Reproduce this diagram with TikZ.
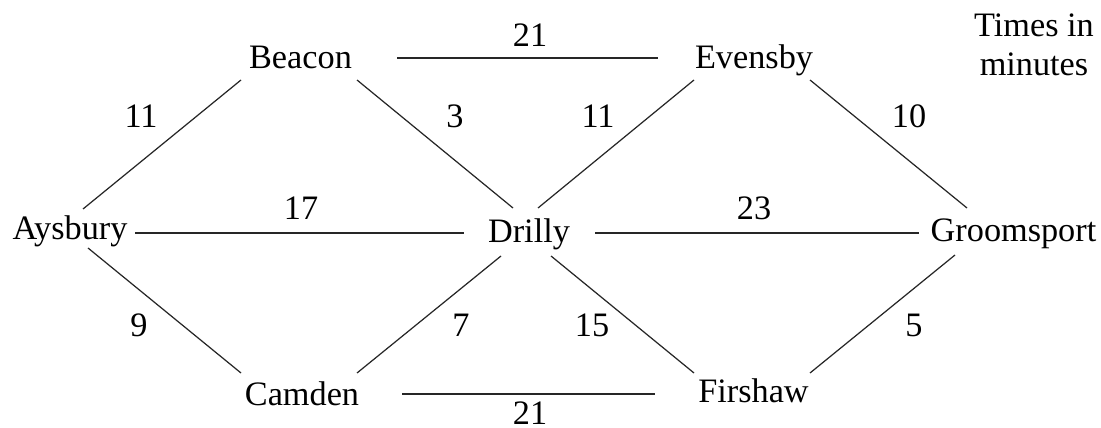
\documentclass[tikz,border=0pt]{standalone}
\usepackage{fontspec}
\setmainfont{Liberation Serif}
\usetikzlibrary{calc}
\begin{document}
\begin{tikzpicture}[x=0.02cm,y=-0.02cm,
  town/.style={inner sep=0pt,anchor=base,font=\fontsize{19.5}{23}\selectfont},
  wt/.style={inner sep=0pt,anchor=base,font=\fontsize{19.5}{23}\selectfont},
  road/.style={line width=0.7pt,black!85}]
\useasboundingbox (0,0) rectangle (1101,428);
% towns
\node[town] (A) at (70,240) {Aysbury};
\node[town] (B) at (300.5,69) {Beacon};
\node[town] (E) at (754,69) {Evensby};
\node[town] (D) at (529,243) {Drilly};
\node[town] (G) at (1013.5,242) {Groomsport};
\node[town] (C) at (302,405) {Camden};
\node[town] (F) at (753.5,402) {Firshaw};
\node[town,align=center,anchor=base] (T) at (1034,76) {Times in\\[-0.5pt]minutes};
% roads
\draw[road] ($(A.base)+(13,-31)$) -- ($(B.base)+(-59.5,11)$);
\draw[road] ($(B.base)+(56.5,11)$) -- ($(D.base)+(-16,-35)$);
\draw[road] ($(B.base)+(96.5,-11)$) -- ($(E.base)+(-96,-11)$);
\draw[road] ($(A.base)+(65,-7)$) -- ($(D.base)+(-65,-10)$);
\draw[road] ($(E.base)+(-60,11)$) -- ($(D.base)+(9,-35)$);
\draw[road] ($(E.base)+(56,11)$) -- ($(G.base)+(-46.5,-34)$);
\draw[road] ($(D.base)+(66,-10)$) -- ($(G.base)+(-94.5,-9)$);
\draw[road] ($(A.base)+(18,8)$) -- ($(C.base)+(-61,-32)$);
\draw[road] ($(C.base)+(55,-32)$) -- ($(D.base)+(-28,13)$);
\draw[road] ($(D.base)+(22,13)$) -- ($(F.base)+(-59.5,-29)$);
\draw[road] ($(C.base)+(100,-11)$) -- ($(F.base)+(-98.5,-8)$);
\draw[road] ($(G.base)+(-58.5,13)$) -- ($(F.base)+(56.5,-29)$);
% weights
\node[wt] (wBE) at (530,47) {21};
\node[wt] (wAB) at (141,128) {11};
\node[wt] (wBD) at (455,128) {3};
\node[wt] (wED) at (598,128) {11};
\node[wt] (wEG) at (909,128) {10};
\node[wt] (wAD) at (301,220) {17};
\node[wt] (wDG) at (754,220) {23};
\node[wt] (wAC) at (139,337) {9};
\node[wt] (wCD) at (461,337) {7};
\node[wt] (wDF) at (592,337) {15};
\node[wt] (wGF) at (914,337) {5};
\node[wt] (wCF) at (530,424) {21};
\end{tikzpicture}
\end{document}
